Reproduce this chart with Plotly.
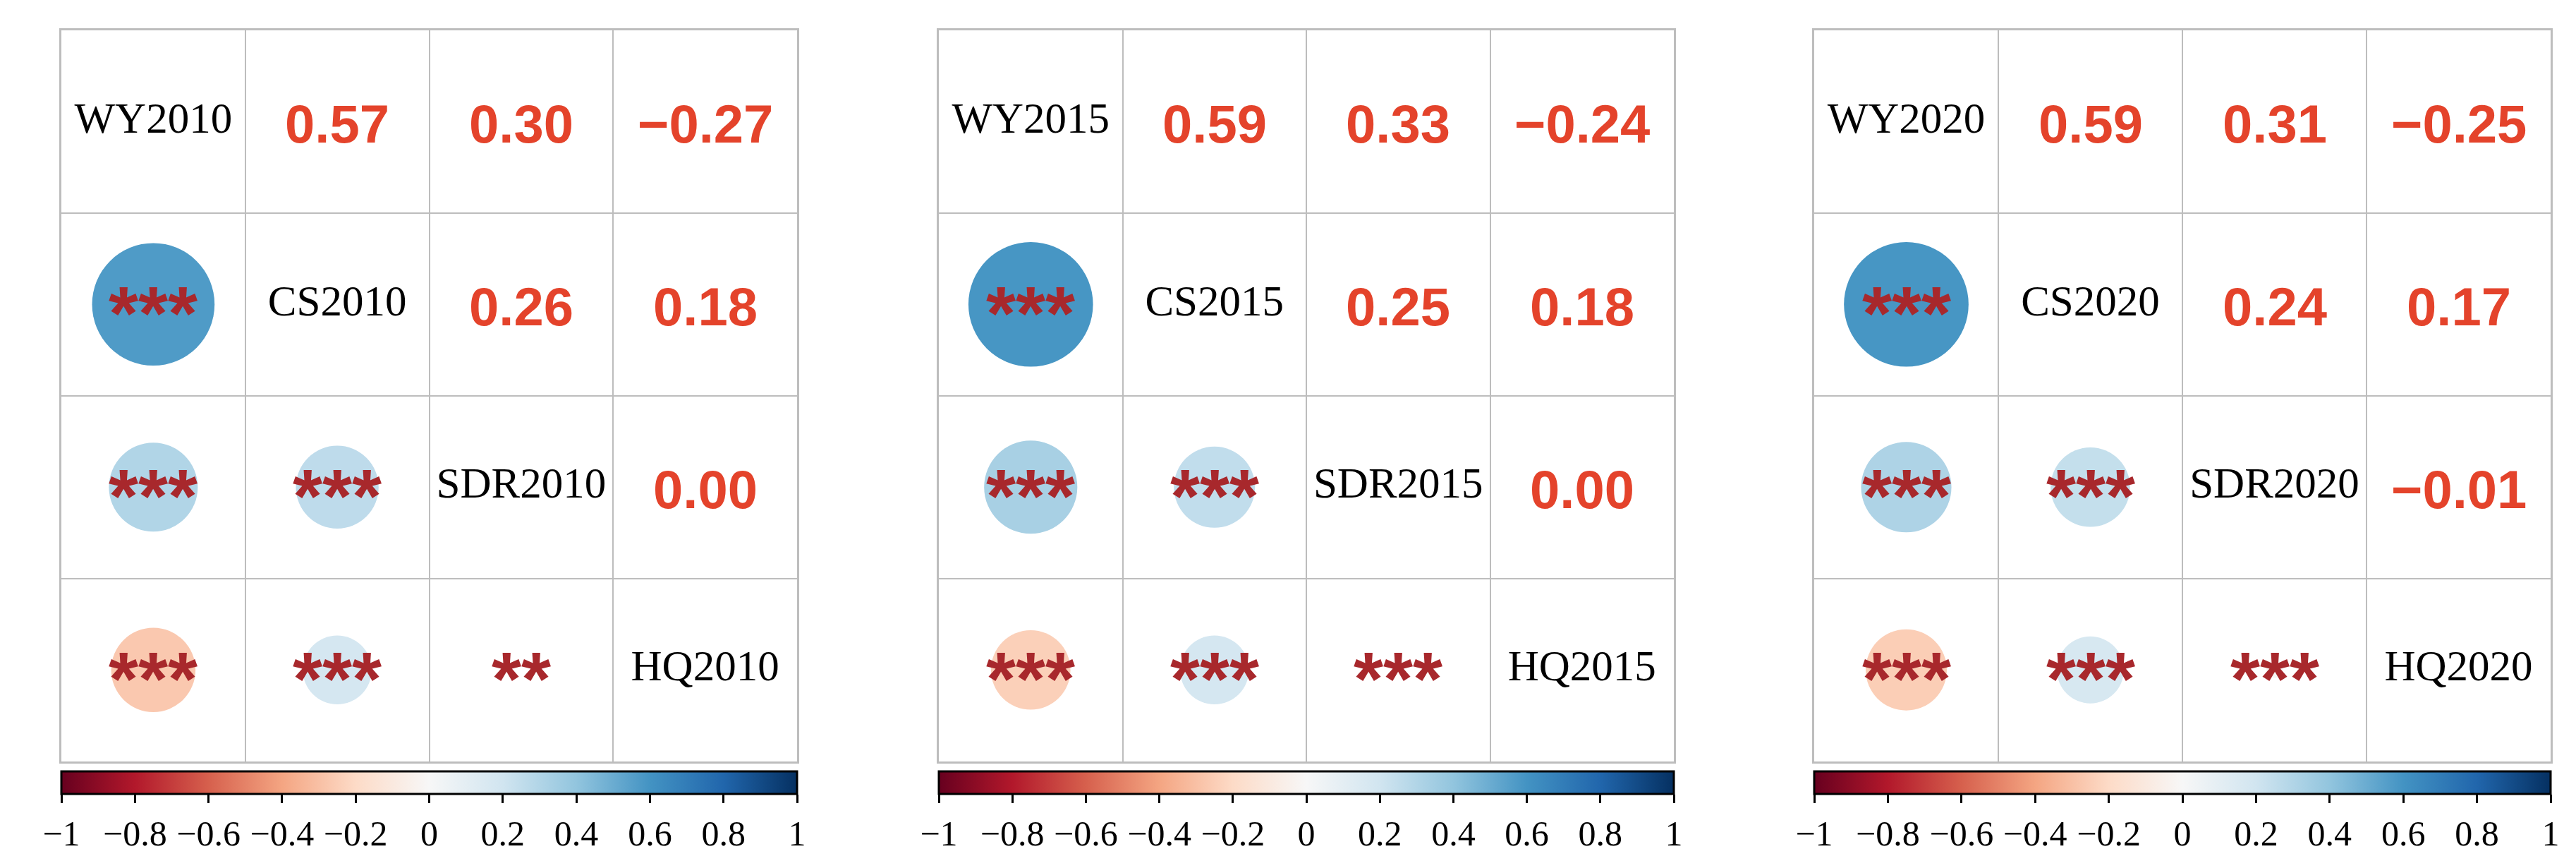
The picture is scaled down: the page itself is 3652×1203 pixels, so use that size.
import math
import plotly.graph_objects as go

# ---------------- data ----------------
variables = ["WY", "CS", "SDR", "HQ"]
years = ["2010", "2015", "2020"]
# pair order: WY-CS, WY-SDR, WY-HQ, CS-SDR, CS-HQ, SDR-HQ
pairs = [(0, 1), (0, 2), (0, 3), (1, 2), (1, 3), (2, 3)]
corr_2010 = [0.57, 0.30, -0.27, 0.26, 0.18, 0.00]
corr_2015 = [0.59, 0.33, -0.24, 0.25, 0.18, 0.00]
corr_2020 = [0.59, 0.31, -0.25, 0.24, 0.17, -0.01]
sig_2010 = ["***", "***", "***", "***", "***", "**"]
sig_2015 = ["***", "***", "***", "***", "***", "***"]
sig_2020 = ["***", "***", "***", "***", "***", "***"]
cbar_tickvals = [-1, -0.8, -0.6, -0.4, -0.2, 0, 0.2, 0.4, 0.6, 0.8, 1]
cbar_ticktext = ["\u22121", "\u22120.8", "\u22120.6", "\u22120.4", "\u22120.2", "0",
                 "0.2", "0.4", "0.6", "0.8", "1"]

corrs = [corr_2010, corr_2015, corr_2020]
sigs = [sig_2010, sig_2015, sig_2020]

# ---------------- style ----------------
RDBU = ["rgb(103,0,31)", "rgb(178,24,43)", "rgb(214,96,77)", "rgb(244,165,130)",
        "rgb(253,219,199)", "rgb(247,247,247)", "rgb(209,229,240)", "rgb(146,197,222)",
        "rgb(67,147,195)", "rgb(33,102,172)", "rgb(5,48,97)"]
colorscale = [[i / (len(RDBU) - 1), c] for i, c in enumerate(RDBU)]

W, H = 3652, 1203
x_domains = [[79 / W, 1122 / W], [1323 / W, 2365 / W], [2564 / W, 3608 / W]]
y_domain = [1 - 1077 / H, 1 - 35 / H]
cbar_top = 1 - 1091 / H
GRID = "#bdbdbd"
NUM_COLOR = "#e4432b"
STAR_COLOR = "#a8282c"
CIRCLE_SCALE = 230  # px diameter at |r| = 1 (area ~ |r|)

fig = go.Figure()
annotations = []

for p in range(3):
    xa = "x" if p == 0 else f"x{p + 1}"
    ya = "y" if p == 0 else f"y{p + 1}"
    vals = corrs[p]
    # lower triangle: circles
    cx = [a for (a, b) in pairs]
    cy = [b for (a, b) in pairs]
    sizes = [CIRCLE_SCALE * math.sqrt(abs(v)) for v in vals]
    fig.add_trace(go.Scatter(
        x=cx, y=cy, mode="markers", xaxis=xa, yaxis=ya, hoverinfo="skip",
        marker=dict(size=sizes, color=vals, colorscale=colorscale, cmin=-1, cmax=1,
                    line=dict(width=0), opacity=1,
                    showscale=True,
                    colorbar=dict(orientation="h", x=sum(x_domains[p]) / 2, xanchor="center",
                                  y=cbar_top, yanchor="top", len=x_domains[p][1] - x_domains[p][0],
                                  lenmode="fraction", thickness=32, thicknessmode="pixels",
                                  xpad=0, ypad=0, outlinecolor="black", outlinewidth=3,
                                  ticks="outside", ticklen=12, tickwidth=3, tickcolor="black",
                                  tickvals=cbar_tickvals, ticktext=cbar_ticktext,
                                  tickfont=dict(family="Liberation Serif", size=50, color="black"))),
        showlegend=False))
    # diagonal labels
    fig.add_trace(go.Scatter(
        x=list(range(4)), y=list(range(4)), mode="text",
        text=[v + years[p] for v in variables], xaxis=xa, yaxis=ya, hoverinfo="skip",
        textfont=dict(family="Liberation Serif", size=61, color="black"),
        textposition="middle center", showlegend=False))
    # upper triangle: numbers
    for (a, b), v in zip(pairs, vals):
        annotations.append(dict(x=b, y=a, xref=xa, yref=ya,
                                text=f"{v:.2f}".replace("-", "\u2212"), showarrow=False,
                                font=dict(family="Liberation Sans", size=76, color=NUM_COLOR,
                                          weight="bold"),
                                xanchor="center", yanchor="middle", yshift=-3))
    # significance stars
    for (a, b), s in zip(pairs, sigs[p]):
        annotations.append(dict(x=a, y=b, xref=xa, yref=ya, text=s, showarrow=False,
                                font=dict(family="Liberation Sans", size=108, color=STAR_COLOR,
                                          weight="bold"),
                                xanchor="center", yanchor="middle", yshift=-12))

axis_common = dict(range=[-0.5, 3.5], tickvals=[0.5, 1.5, 2.5], showticklabels=False,
                   ticks="", showgrid=True, gridcolor=GRID, gridwidth=2, zeroline=False,
                   showline=True, mirror=True, linecolor=GRID, linewidth=3, fixedrange=True)

layout = dict(width=W, height=H, margin=dict(l=0, r=0, t=0, b=0),
              paper_bgcolor="white", plot_bgcolor="white", annotations=annotations)
for p in range(3):
    xk = "xaxis" if p == 0 else f"xaxis{p + 1}"
    yk = "yaxis" if p == 0 else f"yaxis{p + 1}"
    ya = "y" if p == 0 else f"y{p + 1}"
    xa = "x" if p == 0 else f"x{p + 1}"
    layout[xk] = dict(axis_common, domain=x_domains[p], anchor=ya)
    layout[yk] = dict(axis_common, domain=y_domain, anchor=xa, range=[3.5, -0.5])

fig.update_layout(**layout)
fig.write_html("out.html")
